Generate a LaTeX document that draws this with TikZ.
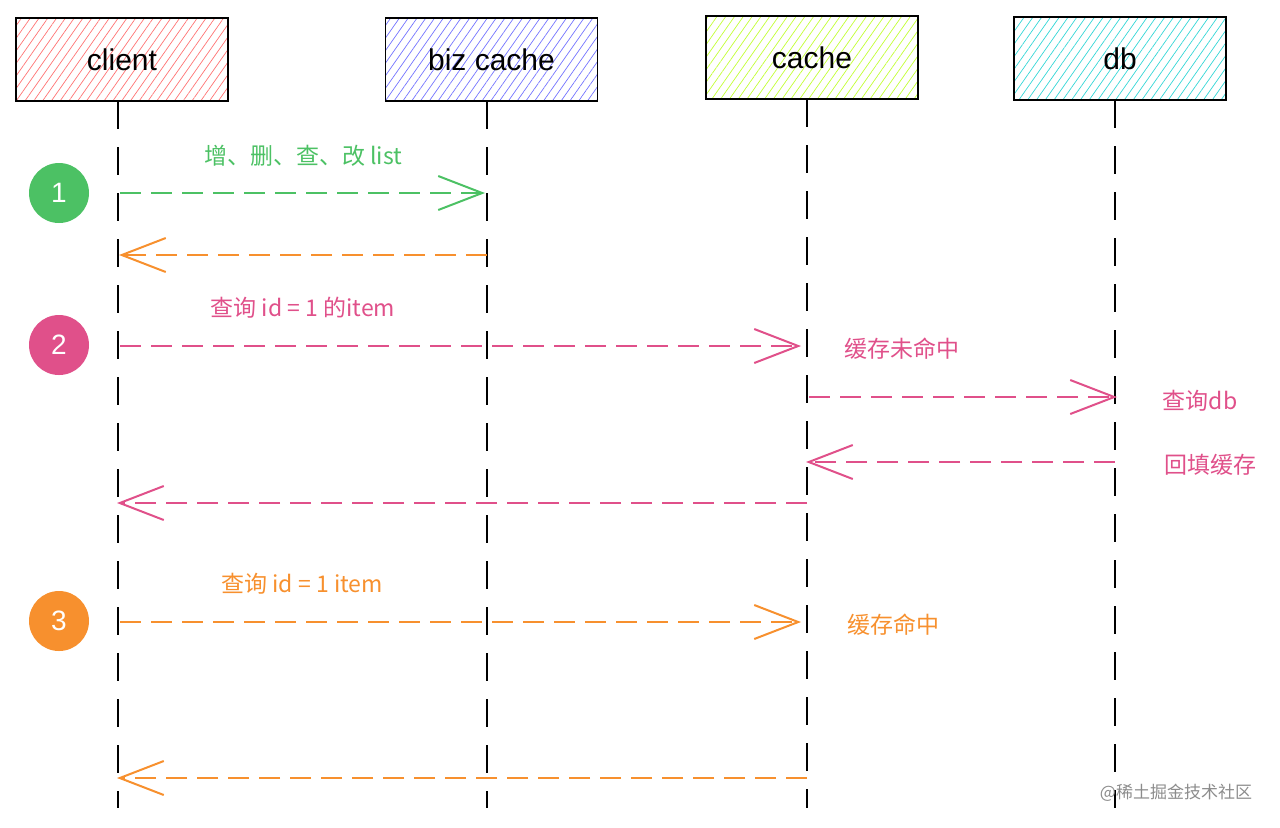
\documentclass[tikz,border=0pt]{standalone}
\usepackage{fontspec}
\setmainfont{Liberation Sans}
\newfontfamily\cjk{Noto Sans CJK SC}
\usetikzlibrary{patterns.meta,arrows.meta}
\definecolor{cgreen}{HTML}{4CC164}
\definecolor{cpink}{HTML}{E0508A}
\definecolor{corange}{HTML}{F7902E}
\tikzset{
  actor/.style={draw=black,line width=0.8pt,minimum width=106pt,minimum height=41.5pt,font=\fontsize{15}{15}\selectfont,
    pattern={Lines[angle=55,distance=3.6pt,line width=0.35pt]}},
  life/.style={line width=1.1pt,dash pattern=on 14pt off 9pt},
  msg/.style={line width=1pt,dash pattern=on 10.5pt off 5pt,-{Straight Barb[length=22pt,width=17pt,line width=1pt]}},
  stepnum/.style={circle,minimum size=30pt,inner sep=0pt,text=white,font=\fontsize{14}{14}\selectfont},
  lbl/.style={font=\cjk\fontsize{11.5}{12}\selectfont}
}
\begin{document}
\begin{tikzpicture}[x=0.5pt,y=-0.5pt]
\useasboundingbox (0,0) rectangle (1280,827);
\node[actor,pattern color=red!55] (client) at (122,59.5) {client};
\node[actor,pattern color=blue!55] (biz) at (491.5,59.5) {biz cache};
\node[actor,pattern color=yellow!70!green!80] (cache) at (812,57.5) {cache};
\node[actor,pattern color=cyan!60!teal!80] (db) at (1120,58.5) {db};

\coordinate (c0) at (118,101);  \coordinate (c1) at (118,808);
\coordinate (b0) at (487,101);  \coordinate (b1) at (487,808);
\coordinate (k0) at (807,99);   \coordinate (k1) at (807,808);
\coordinate (d0) at (1115,100); \coordinate (d1) at (1115,808);
\draw[life] (c0) -- (c1);
\draw[life] (b0) -- (b1);
\draw[life] (k0) -- (k1);
\draw[life] (d0) -- (d1);

% step 1
\node[stepnum,fill=cgreen] (s1) at (59,193) {1};
\coordinate (a1) at (120,193); \coordinate (a2) at (485,193);
\draw[msg,cgreen] (a1) -- (a2);
\node[lbl,text=cgreen] (t1) at (303,156) {增、删、查、改 list};
\coordinate (a3) at (487,255); \coordinate (a4) at (119,255);
\draw[msg,corange] (a3) -- (a4);

% step 2
\node[stepnum,fill=cpink] (s2) at (59,345) {2};
\coordinate (p1) at (120,346); \coordinate (p2) at (801,346);
\draw[msg,cpink] (p1) -- (p2);
\node[lbl,text=cpink] (t2) at (303,308) {查询 id = 1 的item};
\node[lbl,text=cpink] (t3) at (902,349) {缓存未命中};
\coordinate (p3) at (809,397); \coordinate (p4) at (1117,397);
\draw[msg,cpink] (p3) -- (p4);
\node[lbl,text=cpink] (t4) at (1200,401) {查询db};
\coordinate (p5) at (1115,462); \coordinate (p6) at (806,462);
\draw[msg,cpink] (p5) -- (p6);
\node[lbl,text=cpink] (t5) at (1210,465) {回填缓存};
\coordinate (p7) at (807,503); \coordinate (p8) at (117,503);
\draw[msg,cpink] (p7) -- (p8);

% step 3
\node[stepnum,fill=corange] (s3) at (59,621) {3};
\coordinate (o1) at (120,622); \coordinate (o2) at (801,622);
\draw[msg,corange] (o1) -- (o2);
\node[lbl,text=corange] (t6) at (302,584) {查询 id = 1 item};
\node[lbl,text=corange] (t7) at (893,625) {缓存命中};
\coordinate (o3) at (807,778); \coordinate (o4) at (117,778);
\draw[msg,corange] (o3) -- (o4);

\node[font=\cjk\fontsize{8.5}{9}\selectfont,text=black!45] (wm) at (1176,793) {@稀土掘金技术社区};
\end{tikzpicture}
\end{document}
